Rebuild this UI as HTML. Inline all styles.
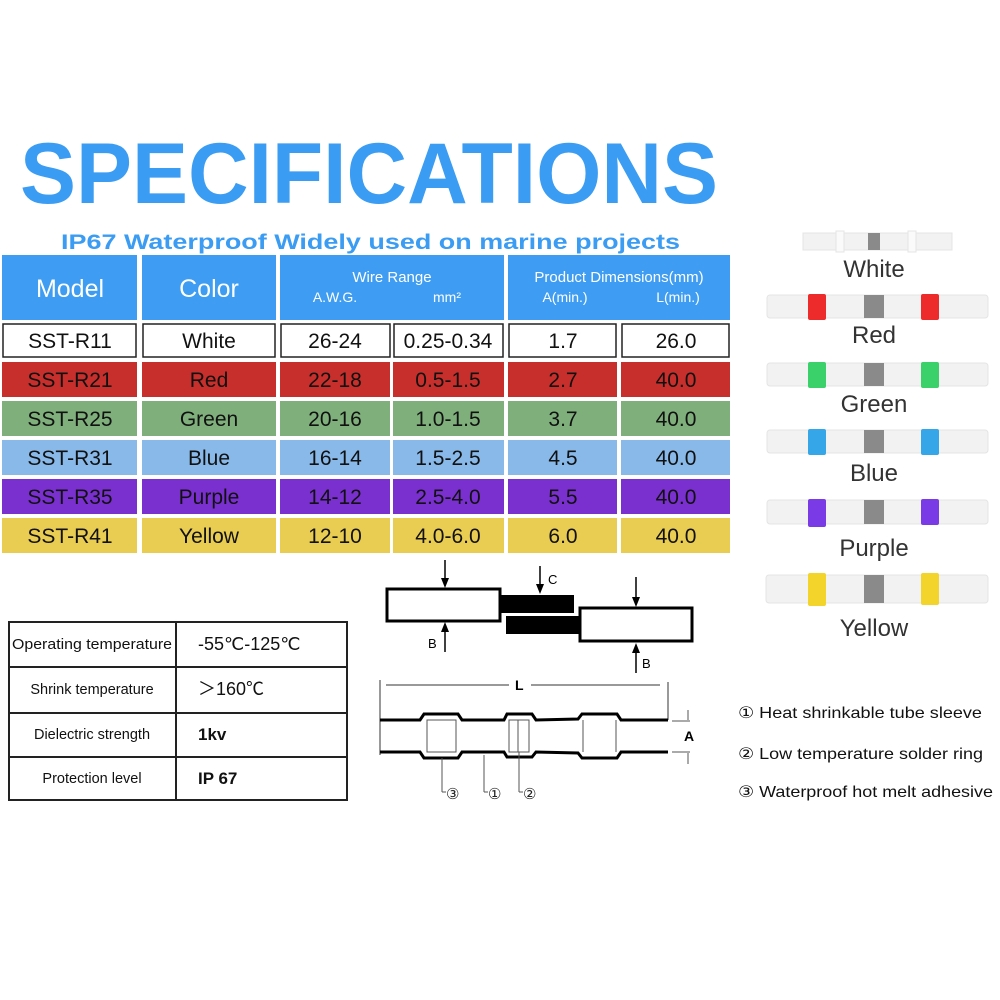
<!DOCTYPE html>
<html><head><meta charset="utf-8"><style>
html,body{margin:0;padding:0;background:#fff;width:1000px;height:1000px;overflow:hidden}
svg{display:block}
text{font-family:"Liberation Sans",Arial,sans-serif}
</style></head><body>
<svg width="1000" height="1000" viewBox="0 0 1000 1000" xmlns="http://www.w3.org/2000/svg">
<rect width="1000" height="1000" fill="#fff"/>
<text x="20" y="203" font-size="86" font-weight="bold" fill="#3a9cf2" textLength="698" lengthAdjust="spacingAndGlyphs">SPECIFICATIONS</text>
<text x="61" y="249" font-size="21" font-weight="bold" fill="#3a9cf2" textLength="619" lengthAdjust="spacingAndGlyphs">IP67 Waterproof Widely used on marine projects</text>

<!-- header -->
<g fill="#3e9df2">
<rect x="2" y="255" width="135" height="65"/><rect x="142" y="255" width="134" height="65"/>
<rect x="280" y="255" width="224" height="65"/><rect x="508" y="255" width="222" height="65"/>
</g>
<g fill="#fff" text-anchor="middle">
<text x="70" y="297" font-size="25">Model</text>
<text x="209" y="297" font-size="25">Color</text>
<text x="392" y="282" font-size="15">Wire Range</text>
<text x="335" y="302" font-size="14">A.W.G.</text>
<text x="447" y="302" font-size="14">mm²</text>
<text x="619" y="282" font-size="15">Product Dimensions(mm)</text>
<text x="565" y="302" font-size="14">A(min.)</text>
<text x="678" y="302" font-size="14">L(min.)</text>
</g>

<!-- rows -->
<g font-size="21" text-anchor="middle" fill="#111">
<g>
<rect x="3" y="324" width="133" height="33" fill="#fff" stroke="#222" stroke-width="1.5"/>
<rect x="143" y="324" width="132" height="33" fill="#fff" stroke="#222" stroke-width="1.5"/>
<rect x="281" y="324" width="109" height="33" fill="#fff" stroke="#222" stroke-width="1.5"/>
<rect x="394" y="324" width="109" height="33" fill="#fff" stroke="#222" stroke-width="1.5"/>
<rect x="509" y="324" width="107" height="33" fill="#fff" stroke="#222" stroke-width="1.5"/>
<rect x="622" y="324" width="107" height="33" fill="#fff" stroke="#222" stroke-width="1.5"/>
<text x="70" y="348">SST-R11</text><text x="209" y="348">White</text><text x="335" y="348">26-24</text><text x="448" y="348">0.25-0.34</text><text x="563" y="348">1.7</text><text x="676" y="348">26.0</text>
</g>
<g fill="#c62f2b">
<rect x="2" y="362" width="135" height="35"/><rect x="142" y="362" width="134" height="35"/><rect x="280" y="362" width="110" height="35"/><rect x="393" y="362" width="111" height="35"/><rect x="508" y="362" width="109" height="35"/><rect x="621" y="362" width="109" height="35"/>
</g>
<g><text x="70" y="387">SST-R21</text><text x="209" y="387">Red</text><text x="335" y="387">22-18</text><text x="448" y="387">0.5-1.5</text><text x="563" y="387">2.7</text><text x="676" y="387">40.0</text></g>
<g fill="#7fb07c">
<rect x="2" y="401" width="135" height="35"/><rect x="142" y="401" width="134" height="35"/><rect x="280" y="401" width="110" height="35"/><rect x="393" y="401" width="111" height="35"/><rect x="508" y="401" width="109" height="35"/><rect x="621" y="401" width="109" height="35"/>
</g>
<g><text x="70" y="426">SST-R25</text><text x="209" y="426">Green</text><text x="335" y="426">20-16</text><text x="448" y="426">1.0-1.5</text><text x="563" y="426">3.7</text><text x="676" y="426">40.0</text></g>
<g fill="#88b9e9">
<rect x="2" y="440" width="135" height="35"/><rect x="142" y="440" width="134" height="35"/><rect x="280" y="440" width="110" height="35"/><rect x="393" y="440" width="111" height="35"/><rect x="508" y="440" width="109" height="35"/><rect x="621" y="440" width="109" height="35"/>
</g>
<g><text x="70" y="465">SST-R31</text><text x="209" y="465">Blue</text><text x="335" y="465">16-14</text><text x="448" y="465">1.5-2.5</text><text x="563" y="465">4.5</text><text x="676" y="465">40.0</text></g>
<g fill="#7a30cf">
<rect x="2" y="479" width="135" height="35"/><rect x="142" y="479" width="134" height="35"/><rect x="280" y="479" width="110" height="35"/><rect x="393" y="479" width="111" height="35"/><rect x="508" y="479" width="109" height="35"/><rect x="621" y="479" width="109" height="35"/>
</g>
<g><text x="70" y="504">SST-R35</text><text x="209" y="504">Purple</text><text x="335" y="504">14-12</text><text x="448" y="504">2.5-4.0</text><text x="563" y="504">5.5</text><text x="676" y="504">40.0</text></g>
<g fill="#e9cc52">
<rect x="2" y="518" width="135" height="35"/><rect x="142" y="518" width="134" height="35"/><rect x="280" y="518" width="110" height="35"/><rect x="393" y="518" width="111" height="35"/><rect x="508" y="518" width="109" height="35"/><rect x="621" y="518" width="109" height="35"/>
</g>
<g><text x="70" y="543">SST-R41</text><text x="209" y="543">Yellow</text><text x="335" y="543">12-10</text><text x="448" y="543">4.0-6.0</text><text x="563" y="543">6.0</text><text x="676" y="543">40.0</text></g>
</g>

<!-- spec table -->
<g fill="none" stroke="#222" stroke-width="2">
<rect x="9" y="622" width="338" height="178"/>
<line x1="176" y1="622" x2="176" y2="800"/>
<line x1="9" y1="667" x2="347" y2="667"/>
<line x1="9" y1="713" x2="347" y2="713"/>
<line x1="9" y1="757" x2="347" y2="757"/>
</g>
<g font-size="14.5" fill="#111" text-anchor="middle">
<text x="92" y="649" textLength="160" lengthAdjust="spacingAndGlyphs">Operating temperature</text>
<text x="92" y="694">Shrink temperature</text>
<text x="92" y="739">Dielectric strength</text>
<text x="92" y="783">Protection level</text>
</g>
<g font-size="18" fill="#111" font-family="Liberation Sans,'Noto Sans CJK SC',sans-serif">
<text x="198" y="650">-55℃-125℃</text>
<text x="198" y="695" font-family="'Noto Sans CJK SC',sans-serif">＞160℃</text>
<text x="198" y="740" font-weight="bold" font-size="17">1kv</text>
<text x="198" y="784" font-weight="bold" font-size="17">IP  67</text>
</g>

<!-- top diagram -->
<g stroke="#000" stroke-width="3" fill="#fff">
<rect x="387" y="589" width="113" height="32"/>
<rect x="580" y="608" width="112" height="33"/>
</g>
<rect x="500" y="595" width="74" height="18" fill="#000"/>
<rect x="506" y="616" width="74" height="18" fill="#000"/>
<g stroke="#000" stroke-width="1.5">
<line x1="445" y1="560" x2="445" y2="580"/>
<line x1="445" y1="652" x2="445" y2="630"/>
<line x1="540" y1="566" x2="540" y2="586"/>
<line x1="636" y1="577" x2="636" y2="598"/>
<line x1="636" y1="673" x2="636" y2="652"/>
</g>
<g fill="#000">
<polygon points="441,578 449,578 445,588"/>
<polygon points="441,632 449,632 445,622"/>
<polygon points="536,584 544,584 540,594"/>
<polygon points="632,597 640,597 636,607"/>
<polygon points="632,653 640,653 636,643"/>
</g>
<g font-size="13" fill="#000">
<text x="428" y="648">B</text><text x="548" y="584">C</text><text x="642" y="668">B</text>
</g>

<!-- bottom diagram -->
<g stroke="#333" stroke-width="1">
<line x1="386" y1="685" x2="509" y2="685"/><line x1="531" y1="685" x2="660" y2="685"/>
<line x1="380" y1="680" x2="380" y2="755"/><line x1="668" y1="682" x2="668" y2="720"/>
</g>
<text x="515" y="690" font-size="14" font-weight="bold">L</text>
<g fill="none" stroke="#000" stroke-width="3">
<path d="M380,720 L420,720 L424,714 L458,714 L462,720 L504,720 L507,714 L532,714 L536,720 L578,719 L582,714 L617,714 L621,720 L668,720"/>
<path d="M380,752 L420,752 L424,758 L458,758 L462,752 L504,752 L507,757 L532,757 L536,752 L578,753 L582,758 L617,758 L621,752 L668,752"/>
</g>
<g stroke="#555" stroke-width="1" fill="none">
<rect x="427" y="720" width="29" height="32"/>
<rect x="509" y="720" width="20" height="32"/>
<line x1="518" y1="720" x2="518" y2="752"/>
<line x1="583" y1="720" x2="583" y2="752"/><line x1="616" y1="720" x2="616" y2="752"/>
<line x1="672" y1="721" x2="690" y2="721"/><line x1="672" y1="752" x2="690" y2="752"/>
<line x1="688" y1="710" x2="688" y2="720"/><line x1="688" y1="753" x2="688" y2="764"/>
<line x1="442" y1="758" x2="442" y2="792"/><line x1="442" y1="792" x2="446" y2="792"/>
<line x1="484" y1="755" x2="484" y2="792"/><line x1="484" y1="792" x2="488" y2="792"/>
<line x1="519" y1="752" x2="519" y2="792"/><line x1="519" y1="792" x2="523" y2="792"/>
</g>
<text x="684" y="741" font-size="14" font-weight="bold">A</text>
<g font-size="15" fill="#222" font-family="'DejaVu Sans',sans-serif">
<text x="446" y="799">③</text><text x="488" y="799">①</text><text x="523" y="799">②</text>
</g>

<!-- legend -->
<g font-size="16" fill="#111">
<text x="738" y="718" textLength="244" lengthAdjust="spacingAndGlyphs"><tspan font-family="'DejaVu Sans',sans-serif">①</tspan> Heat shrinkable tube sleeve</text>
<text x="738" y="759" textLength="245" lengthAdjust="spacingAndGlyphs"><tspan font-family="'DejaVu Sans',sans-serif">②</tspan> Low temperature solder ring</text>
<text x="738" y="797" textLength="255" lengthAdjust="spacingAndGlyphs"><tspan font-family="'DejaVu Sans',sans-serif">③</tspan> Waterproof hot melt adhesive</text>
</g>

<!-- connectors -->
<g>
<rect x="803" y="233" width="149" height="17" fill="#f2f2f2" stroke="#e4e4e4"/>
<rect x="836" y="231" width="8" height="21" fill="#fafafa" stroke="#e4e4e4"/>
<rect x="908" y="231" width="8" height="21" fill="#fafafa" stroke="#e4e4e4"/>
<rect x="868" y="233" width="12" height="17" fill="#8a8a8a"/>

<rect x="767" y="295" width="221" height="23" rx="3" fill="#f2f2f2" stroke="#e4e4e4"/>
<rect x="808" y="294" width="18" height="26" rx="2" fill="#ee2b2b"/><rect x="921" y="294" width="18" height="26" rx="2" fill="#ee2b2b"/>
<rect x="864" y="295" width="20" height="23" fill="#8a8a8a"/>

<rect x="767" y="363" width="221" height="23" rx="3" fill="#f2f2f2" stroke="#e4e4e4"/>
<rect x="808" y="362" width="18" height="26" rx="2" fill="#3ad06a"/><rect x="921" y="362" width="18" height="26" rx="2" fill="#3ad06a"/>
<rect x="864" y="363" width="20" height="23" fill="#8a8a8a"/>

<rect x="767" y="430" width="221" height="23" rx="3" fill="#f2f2f2" stroke="#e4e4e4"/>
<rect x="808" y="429" width="18" height="26" rx="2" fill="#35a6e8"/><rect x="921" y="429" width="18" height="26" rx="2" fill="#35a6e8"/>
<rect x="864" y="430" width="20" height="23" fill="#8a8a8a"/>

<rect x="767" y="500" width="221" height="24" rx="3" fill="#f2f2f2" stroke="#e4e4e4"/>
<rect x="808" y="499" width="18" height="28" rx="2" fill="#7a3be6"/><rect x="921" y="499" width="18" height="26" rx="2" fill="#7a3be6"/>
<rect x="864" y="500" width="20" height="24" fill="#8a8a8a"/>

<rect x="766" y="575" width="222" height="28" rx="3" fill="#f2f2f2" stroke="#e4e4e4"/>
<rect x="808" y="573" width="18" height="33" rx="2" fill="#f2d42a"/><rect x="921" y="573" width="18" height="32" rx="2" fill="#f2d42a"/>
<rect x="864" y="575" width="20" height="28" fill="#8a8a8a"/>
</g>
<g font-size="24" fill="#333" text-anchor="middle">
<text x="874" y="277">White</text>
<text x="874" y="343">Red</text>
<text x="874" y="412">Green</text>
<text x="874" y="481">Blue</text>
<text x="874" y="556">Purple</text>
<text x="874" y="636">Yellow</text>
</g>
</svg>
</body></html>
